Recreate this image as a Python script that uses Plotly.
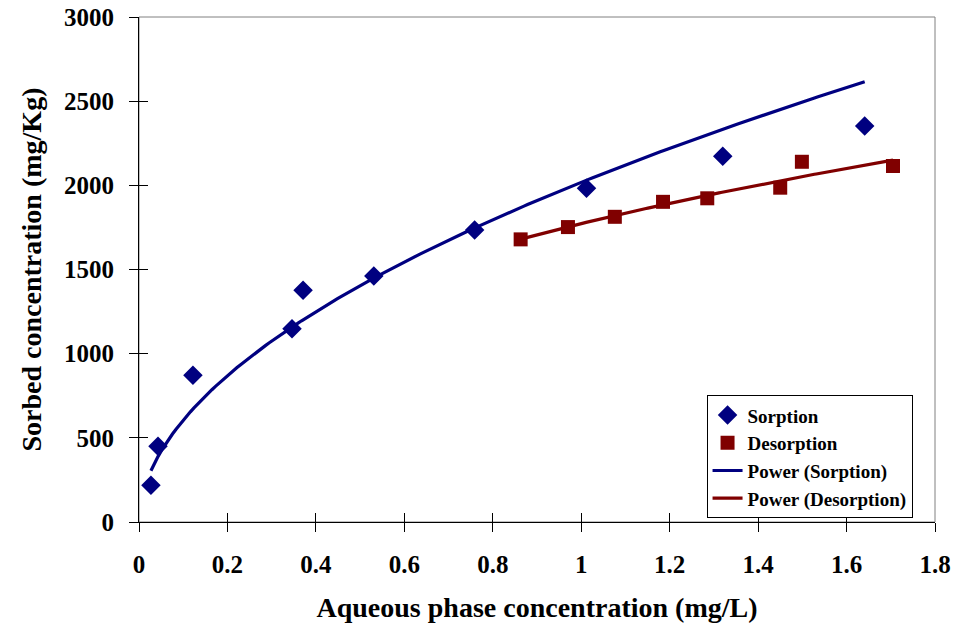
import numpy as np
import plotly.graph_objects as go

# Sorption data (mg/L, mg/Kg)
sorp_x = [0.027, 0.043, 0.122, 0.346, 0.371, 0.531, 0.759, 1.012, 1.320, 1.641]
sorp_y = [218, 450, 872, 1148, 1376, 1461, 1735, 1983, 2173, 2352]
# Desorption data
desorp_x = [0.863, 0.970, 1.076, 1.185, 1.285, 1.450, 1.499, 1.705]
desorp_y = [1679, 1752, 1813, 1902, 1923, 1986, 2140, 2115]

x_ticks = [0, 0.2, 0.4, 0.6, 0.8, 1, 1.2, 1.4, 1.6, 1.8]
x_ticklabels = ["0", "0.2", "0.4", "0.6", "0.8", "1", "1.2", "1.4", "1.6", "1.8"]
y_ticks = [0, 500, 1000, 1500, 2000, 2500, 3000]
y_ticklabels = ["0", "500", "1000", "1500", "2000", "2500", "3000"]

NAVY = "#000080"
MAROON = "#800000"
FONT = "Liberation Serif"


def power_fit(xs, ys):
    b, lna = np.polyfit(np.log(xs), np.log(ys), 1)
    xx = np.linspace(min(xs), max(xs), 200)
    return xx, np.exp(lna) * xx ** b


sfx, sfy = power_fit(sorp_x, sorp_y)
dfx, dfy = power_fit(desorp_x, desorp_y)

fig = go.Figure()
fig.add_trace(go.Scatter(x=sfx, y=sfy, mode="lines", name="Power (Sorption)",
                         line=dict(color=NAVY, width=3.2), showlegend=False))
fig.add_trace(go.Scatter(x=dfx, y=dfy, mode="lines", name="Power (Desorption)",
                         line=dict(color=MAROON, width=3.2), showlegend=False))
fig.add_trace(go.Scatter(x=sorp_x, y=sorp_y, mode="markers", name="<b>Sorption</b>",
                         marker=dict(symbol="diamond", size=15, color=NAVY)))
fig.add_trace(go.Scatter(x=desorp_x, y=desorp_y, mode="markers", name="<b>Desorption</b>",
                         marker=dict(symbol="square", size=14, color=MAROON)))
# legend entries for lines (in order)
fig.add_trace(go.Scatter(x=[None], y=[None], mode="lines", name="<b>Power (Sorption)</b>",
                         line=dict(color=NAVY, width=3.2)))
fig.add_trace(go.Scatter(x=[None], y=[None], mode="lines", name="<b>Power (Desorption)</b>",
                         line=dict(color=MAROON, width=3.2)))

axis_common = dict(showgrid=False, zeroline=False, showline=True, linecolor="black",
                   linewidth=1, ticks="outside", ticklen=9, tickcolor="black",
                   automargin=False,
                   tickfont=dict(family=FONT, size=25, color="black"))

fig.update_layout(
    width=959, height=634,
    margin=dict(l=139, r=24, t=17, b=112),
    paper_bgcolor="white", plot_bgcolor="white",
    font=dict(family=FONT, color="black"),
    xaxis=dict(range=[0, 1.8], tickvals=x_ticks,
               ticktext=["<b>%s</b>" % t for t in x_ticklabels],
               ticklabelstandoff=11,
               title=dict(text="<b>Aqueous phase concentration (mg/L)</b>",
                          font=dict(family=FONT, size=28), standoff=20),
               **axis_common),
    yaxis=dict(range=[0, 3000], tickvals=y_ticks,
               ticktext=["<b>%s</b>" % t for t in y_ticklabels],
               ticklabelstandoff=10,
               title=dict(text="<b>Sorbed concentration (mg/Kg)</b>",
                          font=dict(family=FONT, size=28), standoff=14),
               **axis_common),
    xaxis2=dict(overlaying="x", matches="x", range=[0, 1.8], tickvals=x_ticks,
                showticklabels=False, ticks="inside", ticklen=9, tickcolor="black",
                showgrid=False, zeroline=False, showline=False, side="bottom"),
    yaxis2=dict(overlaying="y", matches="y", range=[0, 3000], tickvals=y_ticks,
                showticklabels=False, ticks="inside", ticklen=9, tickcolor="black",
                showgrid=False, zeroline=False, showline=False, side="left"),
    legend=dict(x=0.713, y=0.251, xanchor="left", yanchor="top",
                bgcolor="white", bordercolor="black", borderwidth=1,
                font=dict(family=FONT, size=19, color="black"),
                tracegroupgap=2, itemwidth=30),
    shapes=[dict(type="rect", xref="x domain", yref="y domain", x0=0, x1=1, y0=0, y1=1,
                 line=dict(color="#808080", width=1), layer="below")],
)
# dummy trace to activate overlay axes
fig.add_trace(go.Scatter(x=[None], y=[None], xaxis="x2", yaxis="y2", showlegend=False,
                         hoverinfo="skip"))

fig.write_html("out.html")
